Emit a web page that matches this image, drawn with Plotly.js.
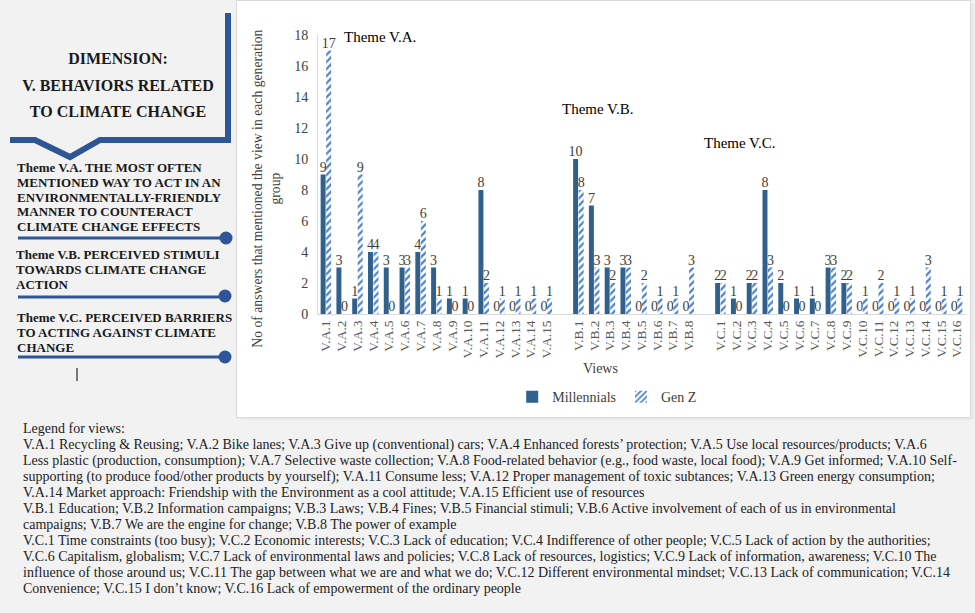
<!DOCTYPE html>
<html>
<head>
<meta charset="utf-8">
<script src="https://cdn.plot.ly/plotly-3.0.1.min.js"></script>
<style>
  body { margin: 0; background: #f2f2f2; font-family: "Liberation Serif", "Times New Roman", serif; }
  #page { position: relative; width: 975px; height: 613px; overflow: hidden; background: #f2f2f2; }
  #plot { position: absolute; left: 237px; top: 1px; width: 733px; height: 416px; background: #fff;
          outline: 1px solid #d9d9d9; box-shadow: 4px 3px 0 #e9e9e9; }
  .t { position: absolute; white-space: nowrap; color: #1a1a1a; }
  .dim { font-weight: bold; font-size: 16px; width: 236px; text-align: center; left: 0; }
  .theme { font-weight: bold; font-size: 13px; line-height: 14.8px; }
  .leg { font-size: 14px; left: 23px; line-height: 16px; color: #222; }
</style>
</head>
<body>
<div id="page">
  <svg width="240" height="400" style="position:absolute;left:0;top:0">
    <polyline points="228,13 228,140 100,140 70,157 35,140 10,140" fill="none" stroke="#2e5597" stroke-width="6"/>
    <line x1="18" y1="238" x2="224" y2="238" stroke="#2e5597" stroke-width="3"/>
    <circle cx="226" cy="238" r="6.5" fill="#2e5597"/>
    <line x1="18" y1="297" x2="224" y2="297" stroke="#2e5597" stroke-width="3"/>
    <circle cx="225" cy="296" r="6.5" fill="#2e5597"/>
    <line x1="18" y1="357" x2="224" y2="357" stroke="#2e5597" stroke-width="3"/>
    <circle cx="225" cy="357" r="6.5" fill="#2e5597"/>
    <line x1="77" y1="368" x2="77" y2="381" stroke="#000" stroke-width="1"/>
  </svg>
  <div class="t dim" style="top:50px">DIMENSION:</div>
  <div class="t dim" style="top:77px">V. BEHAVIORS RELATED</div>
  <div class="t dim" style="top:103px">TO CLIMATE CHANGE</div>
  <div class="t theme" style="left:17px;top:161px">Theme V.A. THE MOST OFTEN<br>MENTIONED WAY TO ACT IN AN<br>ENVIRONMENTALLY-FRIENDLY<br>MANNER TO COUNTERACT<br>CLIMATE CHANGE EFFECTS</div>
  <div class="t theme" style="left:16px;top:248px">Theme V.B. PERCEIVED STIMULI<br>TOWARDS CLIMATE CHANGE<br>ACTION</div>
  <div class="t theme" style="left:17px;top:311px">Theme V.C. PERCEIVED BARRIERS<br>TO ACTING AGAINST CLIMATE<br>CHANGE</div>

  <div id="plot"></div>

  <div class="t leg" style="top:421px">Legend for views:<br>V.A.1 Recycling &amp; Reusing; V.A.2 Bike lanes; V.A.3 Give up (conventional) cars; V.A.4 Enhanced forests’ protection; V.A.5 Use local resources/products; V.A.6<br>Less plastic (production, consumption); V.A.7 Selective waste collection; V.A.8 Food-related behavior (e.g., food waste, local food); V.A.9 Get informed; V.A.10 Self-<br>supporting (to produce food/other products by yourself); V.A.11 Consume less; V.A.12 Proper management of toxic subtances; V.A.13 Green energy consumption;<br>V.A.14 Market approach: Friendship with the Environment as a cool attitude; V.A.15 Efficient use of resources<br>V.B.1 Education; V.B.2 Information campaigns; V.B.3 Laws; V.B.4 Fines; V.B.5 Financial stimuli; V.B.6 Active involvement of each of us in environmental<br>campaigns; V.B.7 We are the engine for change; V.B.8 The power of example<br>V.C.1 Time constraints (too busy); V.C.2 Economic interests; V.C.3 Lack of education; V.C.4 Indifference of other people; V.C.5 Lack of action by the authorities;<br>V.C.6 Capitalism, globalism; V.C.7 Lack of environmental laws and policies; V.C.8 Lack of resources, logistics; V.C.9 Lack of information, awareness; V.C.10 The<br>influence of those around us; V.C.11 The gap between what we are and what we do; V.C.12 Different environmental mindset; V.C.13 Lack of communication; V.C.14<br>Convenience; V.C.15 I don’t know; V.C.16 Lack of empowerment of the ordinary people</div>
</div>

<script>
// views per theme
var viewsA = ['V.A.1','V.A.2','V.A.3','V.A.4','V.A.5','V.A.6','V.A.7','V.A.8','V.A.9','V.A.10','V.A.11','V.A.12','V.A.13','V.A.14','V.A.15'];
var viewsB = ['V.B.1','V.B.2','V.B.3','V.B.4','V.B.5','V.B.6','V.B.7','V.B.8'];
var viewsC = ['V.C.1','V.C.2','V.C.3','V.C.4','V.C.5','V.C.6','V.C.7','V.C.8','V.C.9','V.C.10','V.C.11','V.C.12','V.C.13','V.C.14','V.C.15','V.C.16'];

var millA = [9,3,1,4,3,3,4,3,1,1,8,0,0,0,0];
var genzA = [17,0,9,4,0,3,6,1,0,0,2,1,1,1,1];
var millB = [10,7,3,3,0,0,0,0];
var genzB = [8,3,2,3,2,1,1,3];
var millC = [2,1,2,8,2,1,1,3,2,0,0,0,0,0,0,0];
var genzC = [2,0,2,3,0,0,0,3,2,1,2,1,1,3,1,1];

// blank slot between themes
var views = viewsA.concat(['gapAB'], viewsB, ['gapBC'], viewsC);
var mill = millA.concat([null], millB, [null], millC);
var genz = genzA.concat([null], genzB, [null], genzC);
var tickViews = viewsA.concat(viewsB, viewsC);

var serif = 'Liberation Serif, Times New Roman, serif';

var trace1 = {
    x: views,
    y: mill,
    type: 'bar',
    name: 'Millennials',
    marker: { color: '#30608e', line: { width: 0 } },
    texttemplate: '%{y}',
    textposition: 'outside',
    constraintext: 'none',
    cliponaxis: false,
    textfont: { family: serif, size: 14, color: '#404040' }
};

var trace2 = {
    x: views,
    y: genz,
    type: 'bar',
    name: 'Gen Z',
    marker: {
        color: 'white',
        line: { width: 0 },
        pattern: { shape: '/', fgcolor: '#4a7fd4', bgcolor: 'white', size: 5, solidity: 0.45 }
    },
    texttemplate: '%{y}',
    textposition: 'outside',
    constraintext: 'none',
    cliponaxis: false,
    textfont: { family: serif, size: 14, color: '#404040' }
};

var data = [trace1, trace2];

var layout = {
    width: 733,
    height: 416,
    margin: { l: 81, r: 5, t: 34, b: 102 },
    paper_bgcolor: 'white',
    plot_bgcolor: 'white',
    font: { family: serif, color: '#404040' },
    barmode: 'group',
    bargap: 0.3,
    bargroupgap: 0.1,
    showlegend: true,
    legend: {
        orientation: 'h', x: 0.447, xanchor: 'center', y: -0.293, yanchor: 'middle',
        itemwidth: 30,
        font: { family: serif, size: 14, color: '#404040' }
    },
    xaxis: {
        type: 'category',
        categoryorder: 'array',
        categoryarray: views,
        tickvals: tickViews,
        ticktext: tickViews,
        tickangle: -90,
        tickfont: { family: serif, size: 13.5, color: '#595959' },
        showline: true,
        linecolor: '#d9d9d9',
        ticks: '',
        showgrid: false,
        zeroline: false
    },
    yaxis: {
        range: [0, 18],
        dtick: 2,
        showgrid: false,
        zeroline: false,
        showline: true,
        linecolor: '#d9d9d9',
        ticks: 'outside',
        ticklen: 6,
        tickcolor: 'rgba(0,0,0,0)',
        tickfont: { family: serif, size: 14, color: '#404040' }
    },
    annotations: [
        { text: 'No of answers that mentioned the view in each generation<br>group', textangle: -90,
          xref: 'paper', yref: 'paper', x: -0.08, y: 0.45, xanchor: 'center', yanchor: 'middle', showarrow: false,
          font: { family: serif, size: 13.7, color: '#404040' } },
        { text: 'Views', xref: 'paper', yref: 'paper', x: 0.436, y: -0.196, xanchor: 'center', yanchor: 'middle',
          showarrow: false, font: { family: serif, size: 14, color: '#404040' } },
        { text: 'Theme V.A.', xref: 'paper', yref: 'paper', x: 0.096, y: 0.993, xanchor: 'center', yanchor: 'middle',
          showarrow: false, font: { family: serif, size: 15, color: '#000' } },
        { text: 'Theme V.B.', xref: 'paper', yref: 'paper', x: 0.433, y: 0.736, xanchor: 'center', yanchor: 'middle',
          showarrow: false, font: { family: serif, size: 15, color: '#000' } },
        { text: 'Theme V.C.', xref: 'paper', yref: 'paper', x: 0.652, y: 0.614, xanchor: 'center', yanchor: 'middle',
          showarrow: false, font: { family: serif, size: 15, color: '#000' } }
    ]
};

Plotly.newPlot('plot', data, layout, { displayModeBar: false, staticPlot: true });
</script>
</body>
</html>
